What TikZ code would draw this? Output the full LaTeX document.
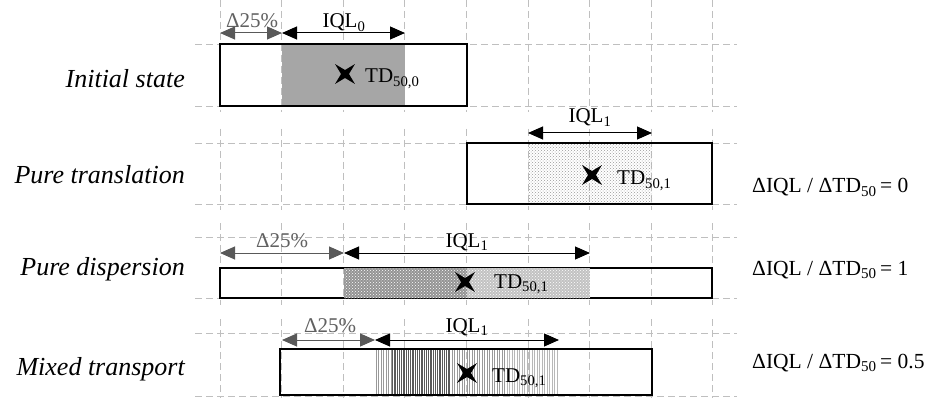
\documentclass[tikz,border=0pt]{standalone}
\usepackage{fontspec}
\setmainfont{Liberation Serif}
\usetikzlibrary{arrows.meta,patterns}
\begin{document}
\begin{tikzpicture}[x=1pt,y=-1pt,
  gridline/.style={draw=black!25, line width=0.9pt, dash pattern=on 7pt off 4pt},
  barbox/.style={draw=black, line width=1.8pt},
  dimarrow/.style={{Triangle[length=15pt,width=13pt]}-{Triangle[length=15pt,width=13pt]}, line width=1pt, draw=black},
  pctarrow/.style={dimarrow, draw=black!65, fill=black!65},
  lbl/.style={font=\fontsize{21}{24}\selectfont, inner sep=0pt, anchor=base},
  pctlbl/.style={lbl, text=black!62},
  tdlbl/.style={font=\fontsize{21}{24}\selectfont, inner sep=0pt, anchor=base west},
  rowname/.style={font=\fontsize{26}{30}\selectfont\itshape, inner sep=0pt, anchor=base east},
  ratio/.style={font=\fontsize{21.5}{24}\selectfont, inner sep=0pt, anchor=base west},
  xmark/.style={fill=black}]
\useasboundingbox (0,0) rectangle (928,398);
\fill[white] (0,0) rectangle (928,398);

% ---------- grid ----------
\foreach \ya/\yb in {44/106,143/204,237/298,333/396}{
  \draw[gridline] (195,\ya) -- (737,\ya);
  \draw[gridline] (195,\yb) -- (737,\yb);
}
\foreach \ya/\yb in {0/112,129/210,223/305,319/398}{
  \foreach \x in {220,281.6,343.2,404.8,466.4,528,589.6,651.2,712.8}{
    \draw[gridline] (\x,\ya) -- (\x,\yb);
  }
}

% ---------- row 1: initial state ----------
\coordinate (b1a) at (220,44); \coordinate (b1b) at (467,106);
\fill[black!35] (282,44) rectangle (405,106);
\draw[barbox] (b1a) rectangle (b1b);
\coordinate (a1l) at (220,33); \coordinate (a1m) at (282,33); \coordinate (a1r) at (405,33);
\draw[pctarrow] (a1l) -- (a1m);
\draw[dimarrow] (a1m) -- (a1r);
\node[pctlbl] (p1) at (252,28) {Δ25\%};
\node[lbl] (q1) at (344,28) {IQL\textsubscript{0}};
\coordinate (x1) at (345,74);
\fill[xmark, shift={(x1)}] (45:14) -- (90:4) -- (135:14) -- (180:4) -- (225:14) -- (270:4) -- (315:14) -- (0:4) -- cycle;
\node[tdlbl] (t1) at (365,83) {TD\textsubscript{50,0}};
\node[rowname] (n1) at (185,88) {Initial state};

% ---------- row 2: pure translation ----------
\coordinate (b2a) at (467,143); \coordinate (b2b) at (712,204);
\fill[pattern=crosshatch dots, pattern color=black!40] (528,143) rectangle (652,204);
\draw[barbox] (b2a) rectangle (b2b);
\coordinate (a2l) at (528,133); \coordinate (a2r) at (652,133);
\draw[dimarrow] (a2l) -- (a2r);
\node[lbl] (q2) at (590,123) {IQL\textsubscript{1}};
\coordinate (x2) at (592,175);
\fill[xmark, shift={(x2)}] (45:14) -- (90:4) -- (135:14) -- (180:4) -- (225:14) -- (270:4) -- (315:14) -- (0:4) -- cycle;
\node[tdlbl] (t2) at (617,185) {TD\textsubscript{50,1}};
\node[rowname] (n2) at (185,183) {Pure translation};
\node[ratio] (r2) at (752,193) {ΔIQL / ΔTD\textsubscript{50}\,= 0};

% ---------- row 3: pure dispersion ----------
\coordinate (b3a) at (220,268); \coordinate (b3b) at (712,298);
\draw[barbox] (b3a) rectangle (b3b);
\fill[black!42] (344,268) rectangle (467,298);
\fill[pattern=crosshatch dots, pattern color=white] (344,268) rectangle (467,298);
\fill[black!24] (467,268) rectangle (590,298);
\fill[pattern=crosshatch dots, pattern color=white] (467,268) rectangle (590,298);
\coordinate (a3l) at (220,253); \coordinate (a3m) at (344,253); \coordinate (a3r) at (590,253);
\draw[pctarrow] (a3l) -- (a3m);
\draw[dimarrow] (a3m) -- (a3r);
\node[pctlbl] (p3) at (282,247) {Δ25\%};
\node[lbl] (q3) at (467,247) {IQL\textsubscript{1}};
\coordinate (x3) at (465,282);
\fill[xmark, shift={(x3)}] (45:14) -- (90:4) -- (135:14) -- (180:4) -- (225:14) -- (270:4) -- (315:14) -- (0:4) -- cycle;
\node[tdlbl] (t3) at (494,288) {TD\textsubscript{50,1}};
\node[rowname] (n3) at (185,275) {Pure dispersion};
\node[ratio] (r3) at (752,275) {ΔIQL / ΔTD\textsubscript{50}\,= 1};

% ---------- row 4: mixed transport ----------
\coordinate (b4a) at (280,349); \coordinate (b4b) at (652,395);
\foreach \x in {376,378.5,...,391}{\draw[black!40, line width=0.6pt] (\x,350) -- (\x,394);}
\foreach \x in {392,393.8,...,450}{\draw[black!65, line width=0.6pt] (\x,350) -- (\x,394);}
\foreach \x in {452,454.5,...,505}{\draw[black!40, line width=0.6pt] (\x,350) -- (\x,394);}
\foreach \x in {507,509.5,...,558}{\draw[black!28, line width=0.6pt] (\x,350) -- (\x,394);}
\draw[barbox] (b4a) rectangle (b4b);
\coordinate (a4l) at (282,340); \coordinate (a4m) at (375,340); \coordinate (a4r) at (559,340);
\draw[pctarrow] (a4l) -- (a4m);
\draw[dimarrow] (a4m) -- (a4r);
\node[pctlbl] (p4) at (330,332) {Δ25\%};
\node[lbl] (q4) at (467,332) {IQL\textsubscript{1}};
\coordinate (x4) at (467,373);
\fill[xmark, shift={(x4)}] (45:14) -- (90:4) -- (135:14) -- (180:4) -- (225:14) -- (270:4) -- (315:14) -- (0:4) -- cycle;
\node[tdlbl] (t4) at (492,382) {TD\textsubscript{50,1}};
\node[rowname] (n4) at (185,375) {Mixed transport};
\node[ratio] (r4) at (752,368) {ΔIQL / ΔTD\textsubscript{50}\,= 0.5};
\end{tikzpicture}
\end{document}
